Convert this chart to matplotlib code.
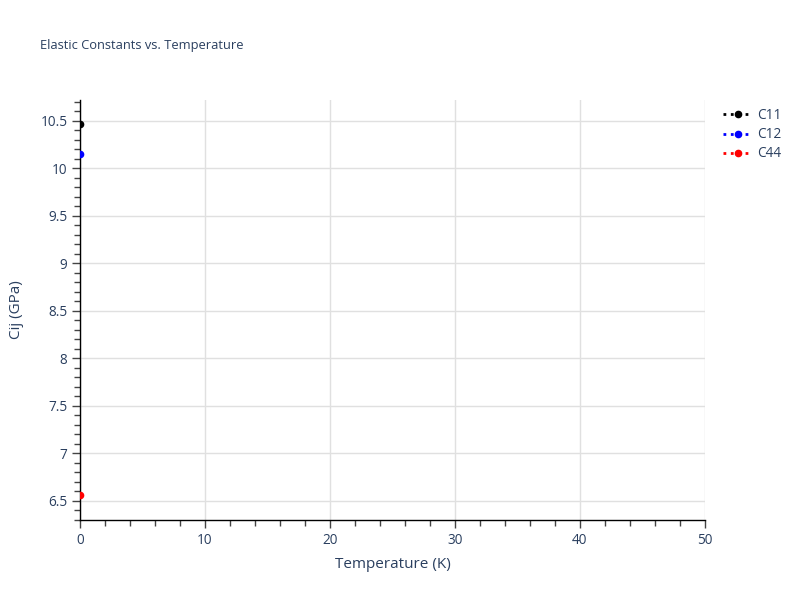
import numpy as np
import matplotlib
matplotlib.use("Agg")
import matplotlib.pyplot as plt
from matplotlib.ticker import MultipleLocator, FuncFormatter

plt.rcParams["font.family"] = ["Open Sans", "DejaVu Sans"]

# data
temperature = [0.0]
c11 = [10.47]
c12 = [10.15]
c44 = [6.56]
series_names = ["C11", "C12", "C44"]
series_colors = ["black", "blue", "red"]

text_col = "#2a3f5f"
grid_col = "#e0e0e0"

fig = plt.figure(figsize=(8, 6), dpi=100)
ax = fig.add_axes([0.1, 0.1333, 0.78125, 0.7])

for vals, name, col in zip([c11, c12, c44], series_names, series_colors):
    ax.plot(temperature, vals, linestyle=":", marker="o", markersize=4.5,
            color=col, linewidth=2, label=name, clip_on=True, zorder=3)

ax.set_xlim(0, 50)
ax.set_ylim(6.295, 10.72)

ax.xaxis.set_major_locator(MultipleLocator(10))
ax.xaxis.set_minor_locator(MultipleLocator(2))
ax.yaxis.set_major_locator(MultipleLocator(0.5))
ax.yaxis.set_minor_locator(MultipleLocator(0.1))
ax.yaxis.set_major_formatter(FuncFormatter(lambda v, p: ("%g" % v)))

ax.grid(True, which="major", color=grid_col, linewidth=1)
ax.set_axisbelow(True)
for s in ["top", "right"]:
    ax.spines[s].set_visible(False)
for s in ["left", "bottom"]:
    ax.spines[s].set_color("black")
    ax.spines[s].set_linewidth(1)

ax.tick_params(which="major", length=6, width=1, color="#444444",
               labelcolor=text_col, labelsize=9.8, pad=3)
ax.tick_params(which="minor", length=4, width=1, color="#444444")

ax.set_xlabel("Temperature (K)", fontsize=11, color=text_col, labelpad=7)
ax.set_ylabel("Cij (GPa)", fontsize=11, color=text_col, labelpad=12)

fig.text(0.05, 0.925, "Elastic Constants vs. Temperature", fontsize=9.3,
         color=text_col, va="center", ha="left")

leg = ax.legend(loc="upper left", bbox_to_anchor=(1.015, 1.0), frameon=False,
                fontsize=9.8, handlelength=2.2, handletextpad=0.35,
                labelcolor=text_col, borderaxespad=0.2, labelspacing=0.3)

fig.savefig("out.png", dpi=100)
